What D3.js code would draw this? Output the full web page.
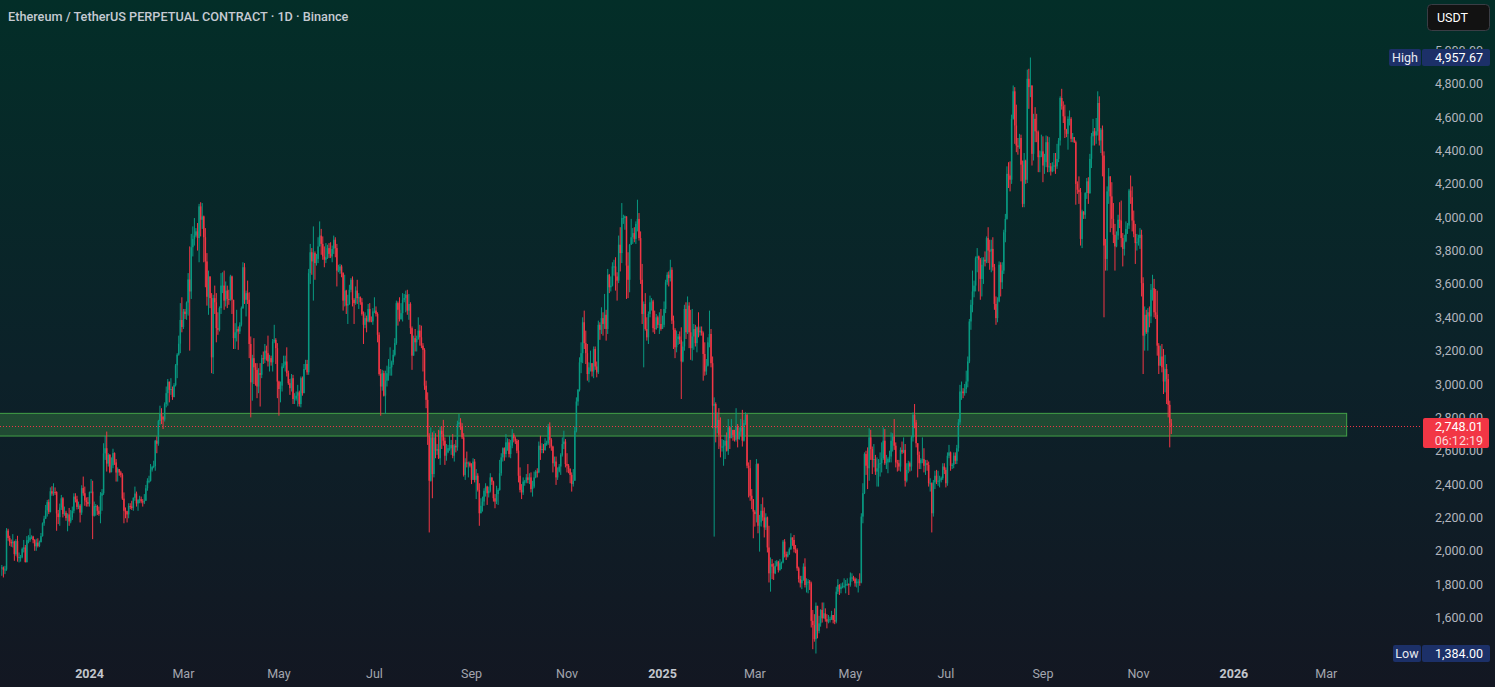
<!DOCTYPE html>
<html>
<head>
<meta charset="utf-8">
<script src="https://cdn.jsdelivr.net/npm/d3@7"></script>
<style>
  html, body { margin: 0; padding: 0; background: #131722; overflow: hidden; }
  svg { display: block; }
</style>
</head>
<body>
<svg id="chart" width="1495" height="687"></svg>
<script>
const chartTitle = "Ethereum / TetherUS PERPETUAL CONTRACT · 1D · Binance";
const currency = "USDT";
const firstDay = "2023-11-06";
const firstOpen = 1895;

// daily closes, one line per month (Nov 2023 .. Nov 2025)
const closes = [
  1900,1886,1888,2121,2077,2052,2045,2055,1980,2058,1960,1962,1962,2012,2020,1932,2063,2063,2081,2085,2064,2027,2049,2029,2052,
  2088,2165,2193,2242,2292,2233,2357,2343,2353,2352,2224,2202,2260,2315,2220,2228,2196,2218,2176,2200,2240,2325,2309,2263,2271,2229,2376,2345,2302,2292,2281,
  2352,2355,2210,2268,2268,2240,2221,2330,2345,2584,2615,2523,2575,2472,2512,2586,2530,2469,2490,2470,2455,2313,2240,2237,2218,2268,2266,2257,2318,2343,2284,
  2304,2309,2296,2290,2300,2375,2420,2420,2486,2502,2508,2660,2642,2778,2823,2805,2787,2880,2945,3014,2965,2970,2922,2993,3112,3176,3242,3384,3342,
  3434,3420,3488,3627,3555,3820,3870,3890,3915,3875,4065,3985,4005,3880,3735,3523,3645,3515,3160,3515,3490,3335,3325,3455,3590,3590,3500,3560,3510,3505,3645,
  3505,3275,3310,3330,3315,3355,3455,3700,3505,3545,3505,3240,3010,3155,3100,3085,2985,3065,3055,3155,3148,3200,3185,3135,3155,3130,3255,3265,3215,3015,
  2970,2990,3105,3115,3135,3065,3005,2975,3035,2910,2912,2930,2950,2880,3035,2945,3090,3120,3070,3665,3790,3735,3785,3725,3750,3825,3890,3840,3765,3745,3760,
  3815,3780,3765,3810,3865,3815,3680,3680,3705,3665,3500,3560,3470,3480,3565,3625,3505,3485,3560,3515,3520,3490,3420,3355,3395,3375,3450,3380,3375,3435,
  3440,3420,3295,3060,2985,3065,2930,3020,3065,3100,3100,3130,3175,3245,3485,3445,3390,3425,3505,3515,3535,3440,3480,3335,3170,3275,3250,3270,3320,3280,3230,
  3205,2990,2905,2690,2420,2680,2460,2680,2600,2610,2555,2720,2700,2660,2570,2590,2615,2615,2635,2570,2630,2620,2760,2770,2745,2680,2455,2530,2525,2525,2510,
  2425,2535,2425,2450,2365,2225,2270,2295,2360,2385,2345,2360,2440,2415,2315,2295,2340,2365,2465,2560,2615,2580,2650,2650,2580,2630,2695,2675,2660,2600,
  2450,2365,2350,2415,2415,2440,2425,2440,2370,2385,2440,2475,2470,2630,2605,2610,2605,2645,2645,2745,2665,2625,2525,2535,2440,2475,2505,2575,2640,2655,2520,
  2510,2490,2455,2400,2420,2720,2895,2965,3130,3185,3370,3245,3185,3060,3100,3125,3075,3210,3105,3070,3355,3325,3395,3360,3415,3330,3655,3580,3590,3705,
  3705,3645,3620,3835,3785,3995,3995,4005,3710,3625,3835,3880,3905,3870,3960,3990,3875,3625,3420,3480,3330,3280,3420,3490,3495,3335,3330,3400,3355,3360,3330,
  3355,3450,3610,3655,3635,3685,3380,3325,3220,3270,3285,3265,3135,3225,3450,3310,3470,3310,3215,3285,3330,3245,3340,3310,3320,3305,3180,3075,3110,3250,3300,
  3125,2870,2880,2735,2785,2695,2625,2625,2630,2660,2600,2740,2675,2725,2695,2665,2745,2670,2715,2740,2660,2765,2815,2510,2495,2330,2310,2235,
  2220,2520,2150,2170,2240,2200,2140,2200,2020,1865,1920,1905,1865,1910,1935,1885,1925,1930,2055,1980,1965,1980,2010,2080,2065,2010,2005,1895,1830,1805,1825,
  1905,1795,1815,1815,1805,1580,1555,1470,1670,1520,1565,1645,1595,1625,1590,1575,1585,1590,1615,1585,1575,1755,1795,1770,1785,1790,1790,1800,1800,1795,
  1840,1840,1830,1805,1815,1815,1810,2205,2345,2580,2510,2495,2680,2610,2545,2550,2475,2495,2520,2525,2555,2660,2525,2530,2550,2565,2660,2685,2630,2530,2525,
  2505,2605,2590,2605,2420,2485,2525,2505,2680,2815,2770,2645,2575,2525,2545,2550,2510,2525,2515,2405,2405,2225,2410,2450,2420,2420,2425,2435,2505,2485,
  2405,2570,2590,2510,2515,2570,2540,2615,2770,2955,2955,2945,2970,3015,3135,3375,3475,3555,3590,3755,3765,3745,3630,3715,3745,3735,3875,3800,3795,3810,3700,
  3480,3395,3495,3715,3610,3680,3910,3990,4260,4250,4225,4590,4755,4550,4430,4420,4475,4315,4080,4340,4225,4830,4780,4790,4380,4590,4515,4510,4360,4370,4395,
  4310,4330,4450,4300,4305,4275,4305,4310,4305,4350,4460,4715,4665,4605,4525,4500,4590,4590,4470,4480,4450,4200,4165,4150,3870,4035,4015,4145,4215,4145,
  4350,4485,4515,4490,4515,4685,4460,4525,4370,3830,3750,4155,4245,4125,3990,3895,3825,3890,3985,3980,3875,3810,3855,3930,3950,4160,4120,3980,3900,3845,3850,
  3875,3895,3605,3290,3415,3310,3430,3405,3565,3575,3430,3415,3230,3110,3165,3100,3015,3090,3030,2875,2765,2748.01
];

const highs = [
  1915,1906,1910,2136,2132,2090,2068,2100,2060,2070,2090,1990,1975,2020,2065,2035,2088,2094,2133,2093,2090,2070,2072,2075,2061,
  2107,2170,2210,2275,2305,2308,2380,2387,2405,2380,2357,2245,2283,2335,2322,2265,2240,2225,2257,2245,2265,2345,2345,2330,2295,2280,2393,2445,2385,2320,2322,
  2355,2430,2420,2295,2280,2275,2265,2352,2370,2645,2690,2715,2585,2580,2560,2612,2590,2550,2500,2490,2480,2465,2350,2260,2240,2285,2285,2300,2320,2385,2355,
  2310,2330,2325,2310,2340,2395,2435,2450,2520,2510,2540,2665,2685,2785,2870,2855,2805,2890,2985,3030,3012,3035,2985,3005,3120,3185,3290,3485,3520,
  3450,3450,3495,3665,3825,3900,3945,3995,3935,3965,4080,4090,4085,4010,3935,3785,3680,3615,3545,3535,3590,3545,3430,3465,3665,3670,3680,3615,3590,3565,3655,
  3650,3505,3365,3445,3345,3370,3465,3730,3725,3560,3620,3550,3285,3175,3275,3125,3125,3095,3125,3175,3195,3240,3230,3290,3175,3170,3270,3355,3275,3245,
  3020,3015,3125,3170,3170,3220,3080,3030,3060,3055,2945,2955,2995,2960,3045,3045,3120,3145,3145,3690,3840,3815,3945,3795,3780,3880,3975,3930,3885,3825,3845,
  3835,3845,3850,3830,3890,3880,3840,3715,3720,3715,3670,3655,3565,3535,3595,3635,3645,3515,3585,3625,3545,3525,3515,3435,3430,3410,3480,3485,3405,3455,
  3520,3465,3430,3310,3090,3085,3080,3080,3110,3150,3220,3140,3205,3275,3500,3495,3520,3485,3545,3540,3560,3565,3540,3490,3345,3290,3330,3290,3400,3355,3350,
  3245,3215,3020,2950,2705,2740,2710,2720,2705,2640,2725,2745,2745,2785,2680,2640,2635,2690,2665,2700,2640,2665,2780,2820,2795,2765,2705,2555,2595,2535,2535,
  2525,2555,2550,2490,2465,2405,2315,2325,2375,2405,2390,2385,2465,2440,2420,2340,2390,2375,2545,2585,2620,2620,2700,2675,2670,2665,2730,2705,2685,2670,
  2665,2500,2400,2440,2425,2460,2520,2465,2470,2420,2475,2485,2495,2655,2690,2645,2640,2675,2660,2760,2770,2675,2630,2565,2565,2500,2520,2585,2680,2720,2670,
  2585,2520,2495,2470,2490,2745,2920,2970,3160,3250,3400,3440,3320,3240,3130,3200,3120,3225,3225,3135,3380,3370,3460,3430,3540,3445,3690,3660,3645,3730,
  3745,3760,3670,3890,3940,4085,4015,4010,4005,3790,3840,3990,3935,3940,3975,4105,4025,3915,3720,3495,3545,3400,3435,3530,3515,3505,3440,3420,3410,3430,3450,
  3410,3495,3625,3670,3675,3745,3700,3410,3335,3320,3300,3315,3340,3255,3475,3490,3525,3490,3445,3450,3360,3355,3345,3430,3345,3345,3315,3250,3150,3280,3440,
  3330,3165,2920,2890,2830,2855,2800,2670,2665,2695,2710,2790,2745,2790,2720,2725,2855,2760,2740,2790,2845,2785,2830,2820,2530,2545,2370,2275,
  2245,2550,2525,2215,2280,2320,2260,2225,2205,2150,1960,1950,1925,1940,1945,1940,1950,1935,2065,2070,1995,1995,2020,2105,2070,2095,2035,2015,1905,1850,1850,
  1925,1955,1835,1830,1825,1815,1645,1620,1690,1670,1610,1650,1690,1690,1655,1620,1615,1605,1640,1615,1655,1785,1830,1800,1805,1810,1835,1825,1835,1805,
  1870,1865,1850,1840,1835,1830,1865,2225,2405,2590,2600,2620,2735,2725,2625,2640,2575,2560,2550,2590,2650,2740,2730,2575,2560,2600,2710,2705,2790,2650,2545,
  2545,2620,2655,2680,2640,2525,2540,2535,2690,2830,2880,2785,2645,2595,2555,2680,2615,2545,2545,2535,2435,2410,2425,2480,2485,2480,2450,2445,2525,2525,
  2500,2590,2635,2595,2525,2590,2590,2635,2790,2995,3015,2975,3000,3080,3165,3390,3505,3680,3620,3765,3815,3770,3755,3760,3760,3795,3885,3940,3865,3865,3880,
  3720,3525,3520,3735,3730,3730,3925,4020,4305,4330,4335,4615,4790,4780,4675,4475,4500,4495,4340,4385,4345,4885,4890,4957.67,4790,4620,4660,4620,4520,4400,4495,
  4485,4380,4490,4485,4480,4325,4330,4385,4385,4440,4475,4725,4770,4695,4675,4530,4605,4640,4600,4505,4480,4460,4215,4245,4175,4045,4035,4150,4235,4240,
  4380,4505,4590,4535,4595,4755,4725,4535,4550,4395,3870,4185,4295,4215,4210,4085,3960,3915,4015,4090,4100,3905,3895,3975,3965,4170,4250,4185,4040,3960,3900,
  3895,3935,3925,3640,3465,3445,3455,3465,3600,3655,3630,3570,3560,3245,3230,3240,3210,3175,3120,3060,2900,2790
];

const lows = [
  1850,1840,1860,1880,2060,2030,2024,2020,1940,1970,1935,1930,1935,1955,1990,1930,1930,2045,2053,2070,2045,2000,2000,2020,2022,
  2050,2085,2150,2190,2205,2220,2230,2330,2330,2335,2120,2160,2150,2245,2200,2210,2180,2117,2150,2165,2185,2225,2290,2248,2250,2170,2215,2330,2270,2265,2265,
  2265,2345,2070,2205,2210,2215,2210,2165,2240,2335,2545,2475,2505,2465,2470,2495,2515,2415,2415,2450,2440,2305,2165,2195,2170,2195,2250,2245,2240,2300,2265,
  2240,2285,2285,2265,2280,2300,2360,2405,2415,2475,2495,2480,2585,2630,2755,2760,2730,2775,2860,2870,2890,2935,2905,2920,2985,3035,3170,3185,3310,
  3330,3390,3385,3410,3200,3510,3765,3830,3880,3800,3730,3885,3930,3730,3580,3470,3415,3455,3065,3060,3420,3250,3295,3315,3420,3545,3445,3465,3455,3475,3500,
  3420,3210,3210,3255,3205,3300,3345,3450,3480,3405,3480,3155,2800,2900,3000,2990,2915,2945,2865,3035,3120,3125,3140,3105,3075,3110,3075,3245,3120,2915,
  2810,2890,2955,3095,3075,3045,2995,2935,2955,2880,2880,2900,2865,2865,2860,2930,2945,3085,3055,3055,3600,3655,3500,3625,3710,3725,3825,3775,3745,3700,3725,
  3750,3755,3755,3730,3780,3760,3585,3670,3660,3640,3440,3465,3420,3360,3475,3550,3465,3360,3475,3480,3450,3475,3410,3240,3335,3310,3370,3370,3370,3355,
  3425,3405,3250,3050,2810,2960,2925,2820,2985,3020,3050,3050,3115,3165,3235,3350,3375,3385,3375,3490,3430,3415,3385,3300,3085,3170,3195,3195,3265,3230,3215,
  3075,2965,2855,2635,2110,2415,2315,2440,2555,2575,2550,2515,2610,2630,2515,2540,2585,2600,2575,2555,2535,2590,2600,2740,2725,2670,2445,2425,2500,2440,2500,
  2400,2425,2410,2310,2355,2150,2255,2235,2270,2325,2275,2320,2350,2395,2295,2255,2280,2275,2360,2450,2535,2540,2560,2600,2560,2555,2615,2650,2640,2585,
  2410,2350,2310,2335,2390,2405,2405,2400,2350,2325,2375,2435,2440,2465,2545,2585,2585,2600,2630,2635,2615,2600,2470,2505,2395,2425,2470,2455,2565,2610,2500,
  2470,2465,2405,2355,2385,2420,2710,2870,2955,3065,3125,3210,3120,3020,3010,3075,3045,3035,3085,3040,3060,3265,3300,3290,3330,3260,3300,3545,3555,3585,
  3650,3560,3500,3605,3675,3725,3960,3925,3510,3515,3550,3835,3840,3850,3840,3915,3860,3600,3360,3100,3320,3260,3240,3400,3440,3310,3300,3325,3335,3300,3320,
  3330,3340,3425,3595,3585,3615,3360,3210,3155,3190,3235,3240,2910,3130,3200,3270,3300,3215,3145,3140,3205,3225,3190,3280,3290,3290,3020,3050,3055,3105,3220,
  3100,2735,2085,2650,2705,2610,2560,2595,2510,2550,2595,2575,2610,2675,2660,2655,2655,2620,2665,2690,2625,2655,2755,2495,2320,2300,2250,2075,
  2145,2170,2105,1995,2145,2180,2080,2125,1990,1810,1755,1830,1825,1860,1905,1870,1880,1890,1925,1960,1945,1960,1975,2005,2030,1990,1985,1880,1810,1780,1770,
  1820,1780,1750,1745,1765,1540,1410,1455,1384,1475,1505,1545,1570,1595,1575,1535,1565,1570,1585,1565,1560,1565,1740,1735,1745,1775,1775,1745,1790,1735,
  1785,1815,1820,1785,1780,1750,1790,1805,2165,2340,2455,2370,2420,2545,2460,2500,2455,2385,2385,2445,2470,2545,2515,2490,2465,2530,2530,2595,2605,2500,2475,
  2480,2475,2580,2585,2385,2410,2465,2475,2480,2655,2735,2620,2440,2490,2490,2525,2470,2455,2480,2385,2355,2110,2205,2370,2400,2390,2380,2410,2425,2460,
  2380,2390,2555,2480,2490,2495,2520,2520,2595,2755,2905,2915,2930,2945,2980,3125,3325,3430,3520,3555,3670,3555,3505,3525,3600,3705,3725,3725,3685,3670,3680,
  3445,3355,3370,3490,3525,3570,3660,3850,3985,4175,4155,4200,4585,4440,4390,4375,4410,4215,4060,4060,4200,4205,4650,4720,4310,4340,4450,4450,4270,4270,4360,
  4210,4260,4300,4270,4270,4250,4270,4275,4260,4290,4330,4430,4645,4565,4475,4480,4405,4550,4450,4450,4445,4075,4140,4080,3830,3815,3990,3990,4110,4080,
  4140,4295,4430,4430,4440,4490,4430,4385,4245,3400,3680,3680,4080,3910,3935,3845,3680,3820,3865,3935,3820,3705,3770,3850,3900,3930,4080,3915,3880,3720,3800,
  3830,3810,3525,3060,3200,3300,3200,3340,3365,3500,3400,3390,3170,3060,3115,3070,2940,2950,2880,2800,2620,2700
];

const priceTicks = [1600, 1800, 2000, 2200, 2400, 2600, 2800, 3000, 3200, 3400, 3600, 3800, 4000, 4200, 4400, 4600, 4800, 5000];
const timeTicks = ["2024-01-01", "2024-03-01", "2024-05-01", "2024-07-01", "2024-09-01", "2024-11-01",
                   "2025-01-01", "2025-03-01", "2025-05-01", "2025-07-01", "2025-09-01", "2025-11-01",
                   "2026-01-01", "2026-03-01"];
const timeTickLabels = ["2024", "Mar", "May", "Jul", "Sep", "Nov", "2025", "Mar", "May", "Jul", "Sep", "Nov", "2026", "Mar"];

// support zone rectangle drawn on the chart
const zoneDates = ["2023-10-01", "2026-03-14"];
const zonePrices = [2688, 2824];

const lastPrice = 2748.01;
const countdown = "06:12:19";
const highMark = 4957.67;
const lowMark = 1384.00;

const width = 1495, height = 687;
const plotRight = 1420;
const upColor = "#089981", downColor = "#f23645";
const font = "Roboto, 'Noto Sans', sans-serif";

const parse = d3.utcParse("%Y-%m-%d");
const start = parse(firstDay);

const candles = closes.map(function (c, i) {
  const o = i === 0 ? firstOpen : closes[i - 1];
  return {
    date: d3.utcDay.offset(start, i),
    open: o,
    close: c,
    high: Math.max(highs[i], o, c),
    low: Math.min(lows[i], o, c)
  };
});

const x = d3.scaleUtc()
  .domain([parse("2024-01-01"), parse("2025-01-01")])
  .range([89.5, 662.5]);

const y = d3.scaleLinear()
  .domain([1600, 4800])
  .range([617.5, 83.8]);

const svg = d3.select("#chart");

// background gradient
const defs = svg.append("defs");
const grad = defs.append("linearGradient")
  .attr("id", "bg").attr("x1", 0).attr("y1", 0).attr("x2", 0).attr("y2", 1);
grad.append("stop").attr("offset", "0%").attr("stop-color", "#032e28");
grad.append("stop").attr("offset", "55%").attr("stop-color", "#0c2129");
grad.append("stop").attr("offset", "100%").attr("stop-color", "#131722");

svg.append("rect")
  .attr("width", width).attr("height", height)
  .attr("fill", "url(#bg)");

// zone
svg.append("rect")
  .attr("class", "zone")
  .attr("x", x(parse(zoneDates[0])))
  .attr("y", y(zonePrices[1]))
  .attr("width", x(parse(zoneDates[1])) - x(parse(zoneDates[0])))
  .attr("height", y(zonePrices[0]) - y(zonePrices[1]))
  .attr("fill", "rgba(76,175,80,0.3)")
  .attr("stroke", "#43a047")
  .attr("stroke-width", 1);

// candles
const bars = svg.append("g").attr("class", "candles");
bars.selectAll("rect.wick")
  .data(candles)
  .join("rect")
  .attr("class", "wick")
  .attr("x", d => x(d.date) - 0.5)
  .attr("width", 1)
  .attr("y", d => y(d.high))
  .attr("height", d => Math.max(1, y(d.low) - y(d.high)))
  .attr("fill", d => d.close >= d.open ? upColor : downColor);
bars.selectAll("rect.body")
  .data(candles)
  .join("rect")
  .attr("class", "body")
  .attr("x", d => x(d.date) - 0.75)
  .attr("width", 1.5)
  .attr("y", d => y(Math.max(d.open, d.close)))
  .attr("height", d => Math.max(1, Math.abs(y(d.open) - y(d.close))))
  .attr("fill", d => d.close >= d.open ? upColor : downColor);

// last price dotted line
svg.append("line")
  .attr("x1", 0).attr("x2", plotRight)
  .attr("y1", Math.round(y(lastPrice)) + 0.5)
  .attr("y2", Math.round(y(lastPrice)) + 0.5)
  .attr("stroke", downColor)
  .attr("stroke-width", 1)
  .attr("stroke-dasharray", "1,2");

// price axis labels
svg.append("g").attr("class", "yAxis")
  .selectAll("text")
  .data(priceTicks)
  .join("text")
  .attr("x", 1483)
  .attr("y", d => y(d) + 4.5)
  .attr("text-anchor", "end")
  .attr("font-family", font)
  .attr("font-size", 12.5)
  .attr("fill", "#b2b5be")
  .text(d => d3.format(",.2f")(d));

// time axis labels
svg.append("g").attr("class", "xAxis")
  .selectAll("text")
  .data(timeTicks)
  .join("text")
  .attr("x", d => x(parse(d)))
  .attr("y", 678)
  .attr("text-anchor", "middle")
  .attr("font-family", font)
  .attr("font-size", 12.5)
  .attr("font-weight", (d, i) => /^\d/.test(timeTickLabels[i]) ? 700 : 400)
  .attr("fill", (d, i) => /^\d/.test(timeTickLabels[i]) ? "#c3c6cd" : "#a3a6af")
  .text((d, i) => timeTickLabels[i]);

// high / low markers on the price scale
function markLabel(name, value, nameLeft) {
  const cy = y(value);
  const g = svg.append("g").attr("class", "mark");
  g.append("rect")
    .attr("x", nameLeft).attr("y", cy - 8.5)
    .attr("width", 1421 - nameLeft).attr("height", 17)
    .attr("rx", 2)
    .attr("fill", "#1c3068");
  g.append("rect")
    .attr("x", 1422).attr("y", cy - 8.5)
    .attr("width", 68).attr("height", 17)
    .attr("rx", 2)
    .attr("fill", "#1c3068");
  g.append("text")
    .attr("x", (nameLeft + 1421) / 2).attr("y", cy + 4.5)
    .attr("text-anchor", "middle")
    .attr("font-family", font).attr("font-size", 12.5)
    .attr("fill", "#e8eaf0")
    .text(name);
  g.append("text")
    .attr("x", 1483).attr("y", cy + 4.5)
    .attr("text-anchor", "end")
    .attr("font-family", font).attr("font-size", 12.5)
    .attr("fill", "#ffffff")
    .text(d3.format(",.2f")(value));
}
markLabel("High", highMark, 1389);
markLabel("Low", lowMark, 1393);

// current price tag
const py = y(lastPrice);
svg.append("rect")
  .attr("x", 1423).attr("y", py - 8)
  .attr("width", 66).attr("height", 30)
  .attr("rx", 2)
  .attr("fill", downColor);
svg.append("text")
  .attr("x", 1483).attr("y", py + 5)
  .attr("text-anchor", "end")
  .attr("font-family", font).attr("font-size", 12.5)
  .attr("fill", "#ffffff")
  .text(d3.format(",.2f")(lastPrice));
svg.append("text")
  .attr("x", 1483).attr("y", py + 18.5)
  .attr("text-anchor", "end")
  .attr("font-family", font).attr("font-size", 12.5)
  .attr("fill", "#fbd7da")
  .text(countdown);

// title
svg.append("text")
  .attr("x", 8).attr("y", 20.5)
  .attr("font-family", font)
  .attr("font-size", 12.7)
  .attr("font-weight", 500)
  .attr("fill", "#c6cad2")
  .text(chartTitle);

// currency button
svg.append("rect")
  .attr("x", 1427.5).attr("y", 4.5)
  .attr("width", 62).attr("height", 26)
  .attr("rx", 4)
  .attr("fill", "#121212")
  .attr("stroke", "#3a3d45");
svg.append("text")
  .attr("x", 1437).attr("y", 22)
  .attr("font-family", font)
  .attr("font-size", 12.5)
  .attr("fill", "#ffffff")
  .text(currency);
</script>
</body>
</html>
